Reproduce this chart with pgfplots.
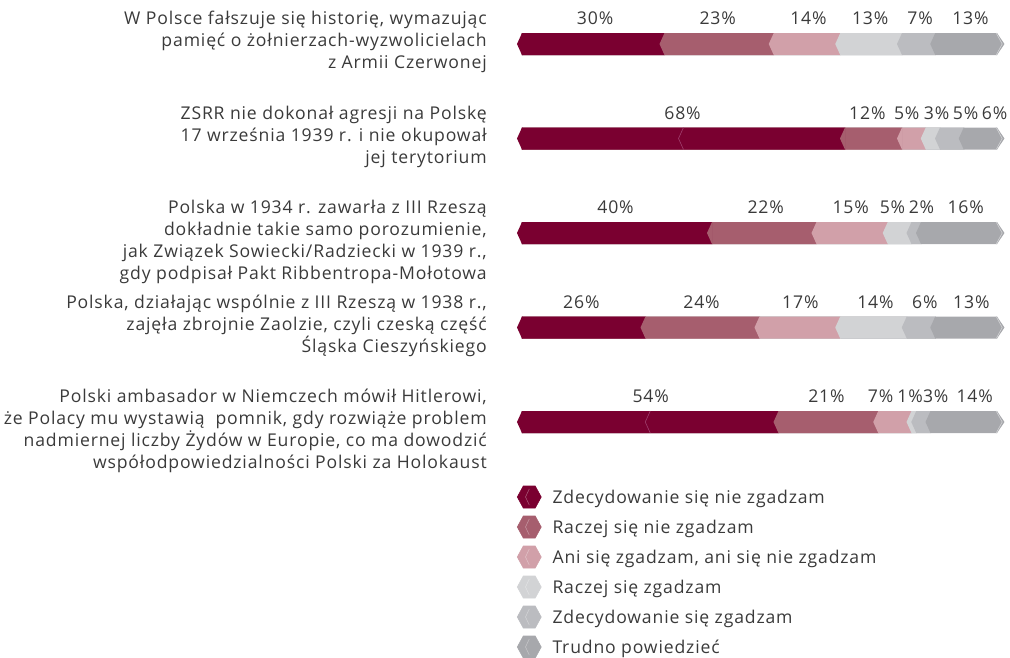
\documentclass[border=0pt]{standalone}
\usepackage{fontspec}
\setmainfont[LetterSpace=4.8]{Open Sans}
\usepackage{pgfplots}
\pgfplotsset{compat=1.18}
\usepackage{pgfplotstable}

\definecolor{c1}{HTML}{7A0030}
\definecolor{c2}{HTML}{A65E6E}
\definecolor{c3}{HTML}{D1A0A9}
\definecolor{c4}{HTML}{D2D3D5}
\definecolor{c5}{HTML}{BBBCC0}
\definecolor{c6}{HTML}{A7A8AC}
\definecolor{txt}{HTML}{3A3A3A}
\definecolor{splitc}{HTML}{A0406E}

% 1 px = 0.75 pt
\pgfdeclareplotmark{chevL}{%
  \pgfpathmoveto{\pgfqpoint{0.4pt}{8.25pt}}%
  \pgfpathlineto{\pgfqpoint{0pt}{8.25pt}}%
  \pgfpathlineto{\pgfqpoint{-3.75pt}{0pt}}%
  \pgfpathlineto{\pgfqpoint{0pt}{-8.25pt}}%
  \pgfpathlineto{\pgfqpoint{0.4pt}{-8.25pt}}%
  \pgfpathclose
  \pgfusepathqfill}
\pgfdeclareplotmark{chevSplit}{%
  \pgfsetlinewidth{0.45pt}%
  \pgfpathmoveto{\pgfqpoint{0pt}{8.25pt}}%
  \pgfpathlineto{\pgfqpoint{-3.75pt}{0pt}}%
  \pgfpathlineto{\pgfqpoint{0pt}{-8.25pt}}%
  \pgfusepathqstroke}
\pgfdeclareplotmark{chevR}{%
  \pgfpathmoveto{\pgfqpoint{-0.4pt}{8.25pt}}%
  \pgfpathlineto{\pgfqpoint{0pt}{8.25pt}}%
  \pgfpathlineto{\pgfqpoint{5.6pt}{0pt}}%
  \pgfpathlineto{\pgfqpoint{0pt}{-8.25pt}}%
  \pgfpathlineto{\pgfqpoint{-0.4pt}{-8.25pt}}%
  \pgfpathclose
  \pgfusepathqfill
  \pgfsetstrokecolor{c4}%
  \pgfsetlinewidth{0.45pt}%
  \pgfpathmoveto{\pgfqpoint{-0.6pt}{8.25pt}}%
  \pgfpathlineto{\pgfqpoint{3.9pt}{0pt}}%
  \pgfpathlineto{\pgfqpoint{-0.6pt}{-8.25pt}}%
  \pgfusepathqstroke}

\pgfplotsset{
  hexlegend/.style={legend image code/.code={%
    \fill[##1] (0pt,0pt) -- (4.5pt,8.25pt) -- (13.5pt,8.25pt) -- (18pt,0pt) -- (13.5pt,-8.25pt) -- (4.5pt,-8.25pt) -- cycle;
    \draw[white, draw opacity=0.35, line width=0.4pt] (9pt,6pt) -- (6.2pt,0pt) -- (9pt,-6pt);
  }},
  seg/.style={xbar, bar width=16.5pt, bar shift=0pt, draw=none, forget plot},
  lbl/.style={draw=none, mark=none, forget plot, point meta=explicit,
    nodes near coords={\pgfmathprintnumber{\pgfplotspointmeta}\%},
    every node near coord/.append style={anchor=base, inner sep=0pt, text=txt}},
}

% values (%) and label centre positions (% of the bar)
\pgfplotstableread{
y a  b  c  d  e f  pa   pb   pc   pd   pe   pf
0 30 23 14 13 7 13 15.4 41.2 60.3 73.3 83.8 94.4
1 68 12 5  3  5 6  33.8 72.7 81.0 87.3 93.4 99.5
2 40 22 15 5  2 16 19.7 51.3 69.2 78.0 84.1 93.4
3 26 24 17 14 6 13 12.5 37.8 58.6 74.4 84.8 94.6
4 54 21 7  1  3 14 27.1 64.1 75.5 81.7 87.1 95.3
}\data

\pgfplotstableread{
y x
1 34
4 27
}\splits

\begin{document}
\fontsize{13.2pt}{16.5pt}\selectfont\color{txt}%
\begin{tikzpicture}
\useasboundingbox (0,0) rectangle (757.5pt,-492.75pt);
\begin{axis}[
  at={(391.5pt,2.4375pt)}, anchor=north west,
  scale only axis, width=356.25pt, height=354.375pt,
  xmin=0, xmax=100, ymin=-0.5, ymax=4.5, y dir=reverse,
  hide axis, clip=false,
  /pgf/number format/assume math mode=true,
  hexlegend,
  legend cell align=left,
  legend style={at={(axis description cs:0,0)}, anchor=north west,
    xshift=-3.75pt, yshift=-9.56pt, draw=none, fill=none,
    inner sep=0pt, outer sep=0pt, row sep=0pt,
    nodes={inner ysep=0pt, inner xsep=0pt, text height=15.9pt, text depth=6.6pt, text=txt},
    /tikz/every odd column/.append style={column sep=8.25pt}},
]
% bars, drawn back to front (each to its cumulative end)
\addplot[seg, fill=c6] table[x expr=100, y=y] {\data};
\addplot[seg, fill=c5] table[x expr=\thisrow{a}+\thisrow{b}+\thisrow{c}+\thisrow{d}+\thisrow{e}, y=y] {\data};
\addplot[seg, fill=c4] table[x expr=\thisrow{a}+\thisrow{b}+\thisrow{c}+\thisrow{d}, y=y] {\data};
\addplot[seg, fill=c3] table[x expr=\thisrow{a}+\thisrow{b}+\thisrow{c}, y=y] {\data};
\addplot[seg, fill=c2] table[x expr=\thisrow{a}+\thisrow{b}, y=y] {\data};
\addplot[seg, fill=c1] table[x=a, y=y] {\data};
% chevron tips
\addplot[only marks, mark=chevL, color=c1, forget plot] table[x expr=0, y=y] {\data};
\addplot[only marks, mark=chevSplit, color=splitc, forget plot] table[x=x, y=y] {\splits};
\addplot[only marks, mark=chevL, color=c2, forget plot] table[x=a, y=y] {\data};
\addplot[only marks, mark=chevL, color=c3, forget plot] table[x expr=\thisrow{a}+\thisrow{b}, y=y] {\data};
\addplot[only marks, mark=chevL, color=c4, forget plot] table[x expr=\thisrow{a}+\thisrow{b}+\thisrow{c}, y=y] {\data};
\addplot[only marks, mark=chevL, color=c5, forget plot] table[x expr=\thisrow{a}+\thisrow{b}+\thisrow{c}+\thisrow{d}, y=y] {\data};
\addplot[only marks, mark=chevL, color=c6, forget plot] table[x expr=\thisrow{a}+\thisrow{b}+\thisrow{c}+\thisrow{d}+\thisrow{e}, y=y] {\data};
\addplot[only marks, mark=chevR, color=c6, forget plot] table[x expr=100, y=y] {\data};
% percentage labels
\addplot[lbl] table[x=pa, y expr=\thisrow{y}-0.206, meta=a] {\data};
\addplot[lbl] table[x=pb, y expr=\thisrow{y}-0.206, meta=b] {\data};
\addplot[lbl] table[x=pc, y expr=\thisrow{y}-0.206, meta=c] {\data};
\addplot[lbl] table[x=pd, y expr=\thisrow{y}-0.206, meta=d] {\data};
\addplot[lbl] table[x=pe, y expr=\thisrow{y}-0.206, meta=e] {\data};
\addplot[lbl] table[x=pf, y expr=\thisrow{y}-0.206, meta=f] {\data};
% legend
\addlegendimage{c1}\addlegendentry{Zdecydowanie się nie zgadzam}
\addlegendimage{c2}\addlegendentry{Raczej się nie zgadzam}
\addlegendimage{c3}\addlegendentry{Ani się zgadzam, ani się nie zgadzam}
\addlegendimage{c4}\addlegendentry{Raczej się zgadzam}
\addlegendimage{c5}\addlegendentry{Zdecydowanie się zgadzam}
\addlegendimage{c6}\addlegendentry{Trudno powiedzieć}
% statements (node base = baseline of the last line; 22 px per line = 0.2328 units)
\tikzset{stmt/.style={anchor=base east, align=right, inner sep=0pt, xshift=-26.25pt, text=txt}}
\node[stmt] at (axis cs:0,0.2596) {W Polsce fałszuje się historię, wymazując\\pamięć o żołnierzach-wyzwolicielach\\z Armii Czerwonej};
\node[stmt] at (axis cs:0,1.2596) {ZSRR nie dokonał agresji na Polskę\\17 września 1939 r. i nie okupował\\jej terytorium};
\node[stmt] at (axis cs:0,2.4924) {Polska w 1934 r. zawarła z III Rzeszą\\dokładnie takie samo porozumienie,\\jak Związek Sowiecki/Radziecki w 1939 r.,\\gdy podpisał Pakt Ribbentropa-Mołotowa};
\node[stmt] at (axis cs:0,3.2596) {Polska, działając wspólnie z III Rzeszą w 1938 r.,\\zajęła zbrojnie Zaolzie, czyli czeską część\\Śląska Cieszyńskiego};
\node[stmt] at (axis cs:0,4.4924) {Polski ambasador w Niemczech mówił Hitlerowi,\\że Polacy mu wystawią\ \ pomnik, gdy rozwiąże problem\\nadmiernej liczby Żydów w Europie, co ma dowodzić\\współodpowiedzialności Polski za Holokaust};
\end{axis}
\end{tikzpicture}
\end{document}
